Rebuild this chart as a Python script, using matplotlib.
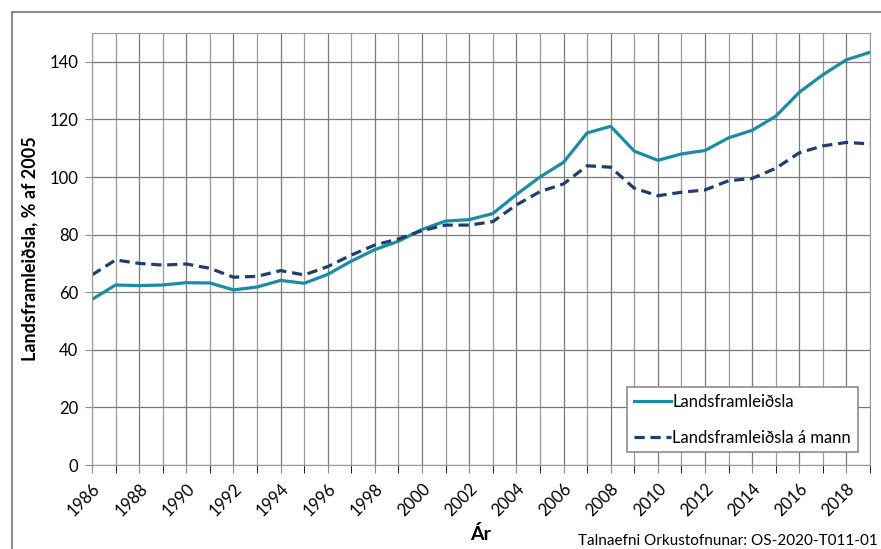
import matplotlib
matplotlib.use("Agg")
import matplotlib.pyplot as plt
from matplotlib.patches import Rectangle

# data: index, % of 2005
years = list(range(1986, 2020))
gdp = [57.5, 62.5, 62.3, 62.5, 63.3, 63.2, 60.8, 61.8, 64.1, 63.1,
       66.2, 70.8, 74.8, 77.7, 81.8, 84.7, 85.2, 87.3, 93.9, 100.0,
       105.1, 115.3, 117.6, 109.0, 105.8, 108.0, 109.2, 113.6, 116.2, 121.1,
       129.4, 135.5, 140.7, 143.3]
gdp_per_capita = [66.0, 71.2, 70.0, 69.4, 69.8, 68.3, 65.2, 65.5, 67.5, 66.0,
                  68.9, 72.9, 76.4, 78.5, 81.4, 83.3, 83.3, 84.5, 90.3, 94.9,
                  97.6, 103.9, 103.4, 96.1, 93.5, 94.7, 95.5, 98.7, 99.5, 103.0,
                  108.4, 110.8, 112.0, 111.5]
year_labels = [str(y) for y in range(1986, 2019, 2)]

plt.rcParams["font.family"] = ["Lato", "DejaVu Sans"]

W, H = 881, 549
fig = plt.figure(figsize=(W / 100, H / 100), dpi=100)
ax = fig.add_axes([92 / W, 1 - 465 / H, (870 - 92) / W, (465 - 33) / H])

# outer chart frame
fig.patches.append(Rectangle((12 / W, -0.05), 1.1, 1 - 12 / H + 0.05,
                             transform=fig.transFigure, fill=False,
                             edgecolor="#8c8c8c", linewidth=1.5))

ax.plot(years, gdp, color="#1a8ca6", linewidth=2.3, label="Landsframleiðsla")
ax.plot(years, gdp_per_capita, color="#1f3d6e", linewidth=2.3,
        linestyle=(0, (3.2, 1.8)), label="Landsframleiðsla á mann")

ax.set_xlim(1986, 2019)
ax.set_ylim(0, 150)
ax.set_yticks(range(0, 141, 20))
ax.set_xticks(range(1986, 2019, 2))
ax.set_xticks(range(1987, 2020, 2), minor=True)
ax.set_xticklabels(year_labels, rotation=45, ha="right", rotation_mode="anchor")
ax.tick_params(axis="both", labelsize=12, color="#8c8c8c", length=5)
ax.tick_params(axis="x", which="both", length=6, pad=5)
ax.tick_params(axis="y", pad=5)

ax.grid(True, which="major", color="#7a7a7a", linewidth=0.9)
ax.grid(True, which="minor", axis="x", color="#9a9a9a", linewidth=0.9)
for s in ax.spines.values():
    s.set_color("#999999")
ax.set_axisbelow(True)

ax.set_ylabel("Landsframleiðsla, % af 2005", fontsize=13, fontweight="bold", labelpad=8)
fig.text(481 / W, 1 - 534 / H, "Ár", ha="center", va="center",
         fontsize=14, fontweight="bold")

leg = ax.legend(loc="lower right", bbox_to_anchor=(0.995, 0.01), fontsize=12,
                handlelength=2.2, handletextpad=0.1, borderpad=0.4,
                labelspacing=1.2, fancybox=False, framealpha=1)
leg.get_frame().set_edgecolor("#8c8c8c")
leg.get_frame().set_linewidth(1.2)

fig.text(878 / W, 1 - 541 / H, "Talnaefni Orkustofnunar: OS-2020-T011-01",
         ha="right", va="center", fontsize=11)

fig.savefig("out.png", dpi=100)
